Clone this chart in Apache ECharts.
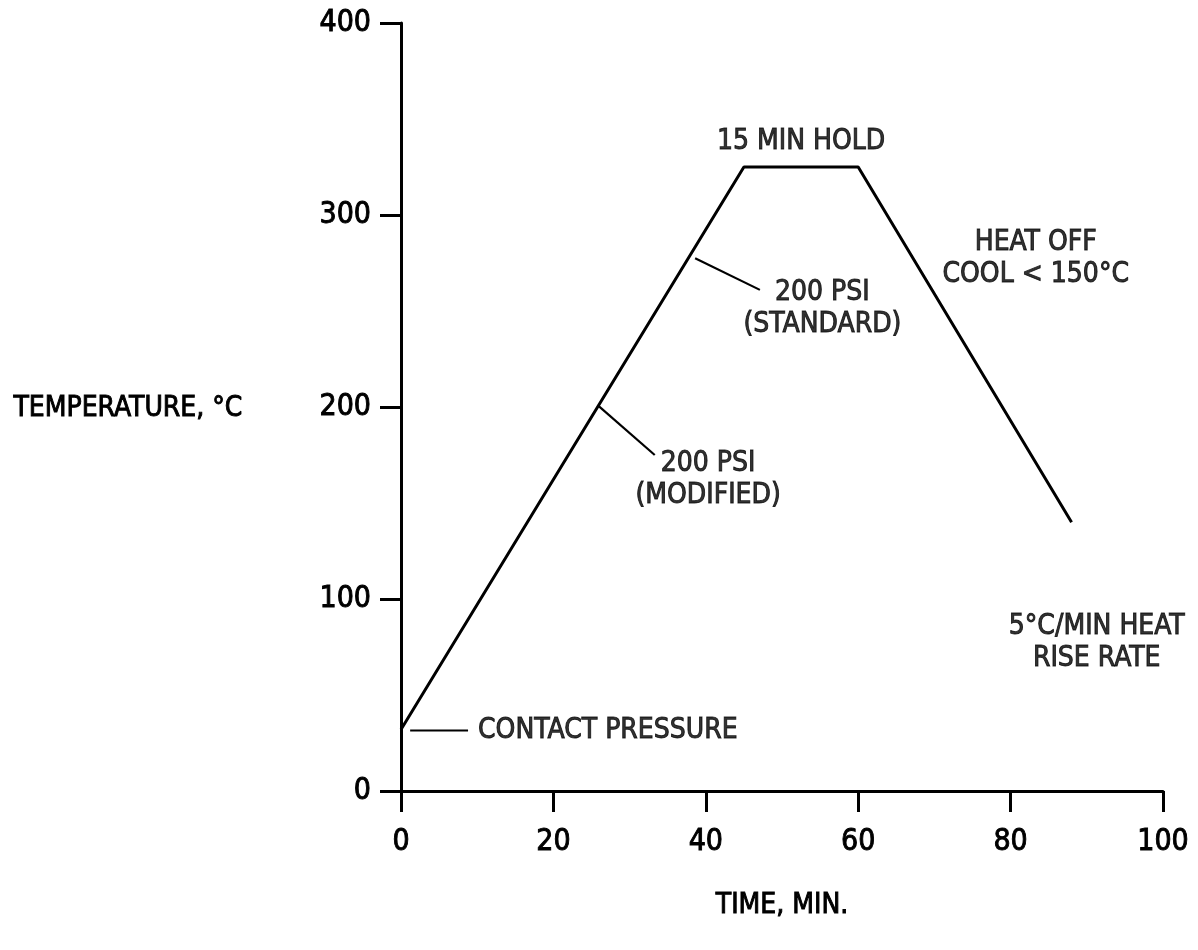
<!DOCTYPE html>
<html>
<head>
<meta charset="utf-8">
<title>Press cycle</title>
<script src="https://cdn.jsdelivr.net/npm/echarts@6/dist/echarts.min.js"></script>
<style>
  html, body { margin: 0; padding: 0; background: #fff; }
  #chart { width: 1198px; height: 950px; }
</style>
</head>
<body>
<div id="chart"></div>
<script>
// Press cycle: time (min) vs temperature (°C)
const cycleTime = [0, 45, 60, 88];
const cycleTemp = [32, 325, 325, 140];

const xTicks = { min: 0, max: 100, step: 20 };
const yTicks = { min: 0, max: 400, step: 100 };

// Leader lines, each [x0, y0, x1, y1] in chart units
const leaderContact = [1.2, 31.5, 8.8, 31.5];
const leaderStandard = [38.6, 277.5, 47.1, 261];
const leaderModified = [25.8, 201, 33.3, 175];

// Annotation texts and their anchor points in chart units
const noteTexts = [
  'CONTACT PRESSURE',
  '200 PSI\n(STANDARD)',
  '200 PSI\n(MODIFIED)',
  '15 MIN HOLD',
  'HEAT OFF\nCOOL < 150°C',
  '5°C/MIN HEAT\nRISE RATE'
];
const noteX = [10.1, 55.3, 40.3, 52.5, 83.3, 91.3];
const noteY = [31.5, 251, 162, 338, 277, 77];
const noteAlign = ['left', 'center', 'center', 'center', 'center', 'center'];

const FONT = '"DejaVu Sans Condensed", "Liberation Sans Narrow", sans-serif';
const INK = '#000';

// Heavier strokes on the lettering, like inked drafting text
const inked = { color: INK, textBorderColor: INK, textBorderWidth: 0.9 };

const chart = echarts.init(document.getElementById('chart'));

const leaderSeries = [leaderContact, leaderStandard, leaderModified].map(function (l) {
  return {
    type: 'line',
    data: [[l[0], l[1]], [l[2], l[3]]],
    showSymbol: false,
    lineStyle: { color: INK, width: 2.2 },
    silent: true,
    z: 3
  };
});

chart.setOption({
  animation: false,
  backgroundColor: '#fff',
  grid: { left: 401, right: 35, top: 23, bottom: 159 },
  xAxis: {
    type: 'value',
    min: xTicks.min,
    max: xTicks.max,
    interval: xTicks.step,
    name: 'TIME, MIN.',
    nameLocation: 'middle',
    nameGap: 101,
    nameTextStyle: Object.assign({ fontFamily: FONT, fontSize: 28 }, inked),
    axisLine: { show: true, onZero: false, lineStyle: { color: INK, width: 3 } },
    axisTick: { show: true, length: 21, lineStyle: { color: INK, width: 3 } },
    axisLabel: Object.assign({ margin: 36, fontFamily: FONT, fontSize: 30 }, inked),
    splitLine: { show: false }
  },
  yAxis: {
    type: 'value',
    min: yTicks.min,
    max: yTicks.max,
    interval: yTicks.step,
    axisLine: { show: true, onZero: false, lineStyle: { color: INK, width: 3 } },
    axisTick: { show: true, length: 21, lineStyle: { color: INK, width: 3 } },
    axisLabel: Object.assign({ margin: 30, fontFamily: FONT, fontSize: 30 }, inked),
    splitLine: { show: false }
  },
  graphic: [{
    type: 'text',
    left: 13,
    top: 394,
    style: {
      text: 'TEMPERATURE, °C',
      font: '28px ' + FONT,
      fill: INK,
      stroke: INK,
      lineWidth: 0.9
    }
  }],
  series: [{
    type: 'line',
    data: cycleTime.map(function (t, i) { return [t, cycleTemp[i]]; }),
    showSymbol: false,
    lineStyle: { color: INK, width: 3 },
    z: 4
  }].concat(leaderSeries).concat([{
    type: 'scatter',
    symbolSize: 0,
    silent: true,
    itemStyle: { color: 'transparent' },
    data: noteTexts.map(function (s, i) {
      return {
        value: [noteX[i], noteY[i]],
        label: Object.assign({ formatter: s, align: noteAlign[i] }, inked)
      };
    }),
    label: Object.assign({
      show: true,
      position: 'inside',
      verticalAlign: 'middle',
      fontFamily: FONT,
      fontSize: 28,
      lineHeight: 32
    }, inked),
    z: 5
  }])
});
</script>
</body>
</html>
